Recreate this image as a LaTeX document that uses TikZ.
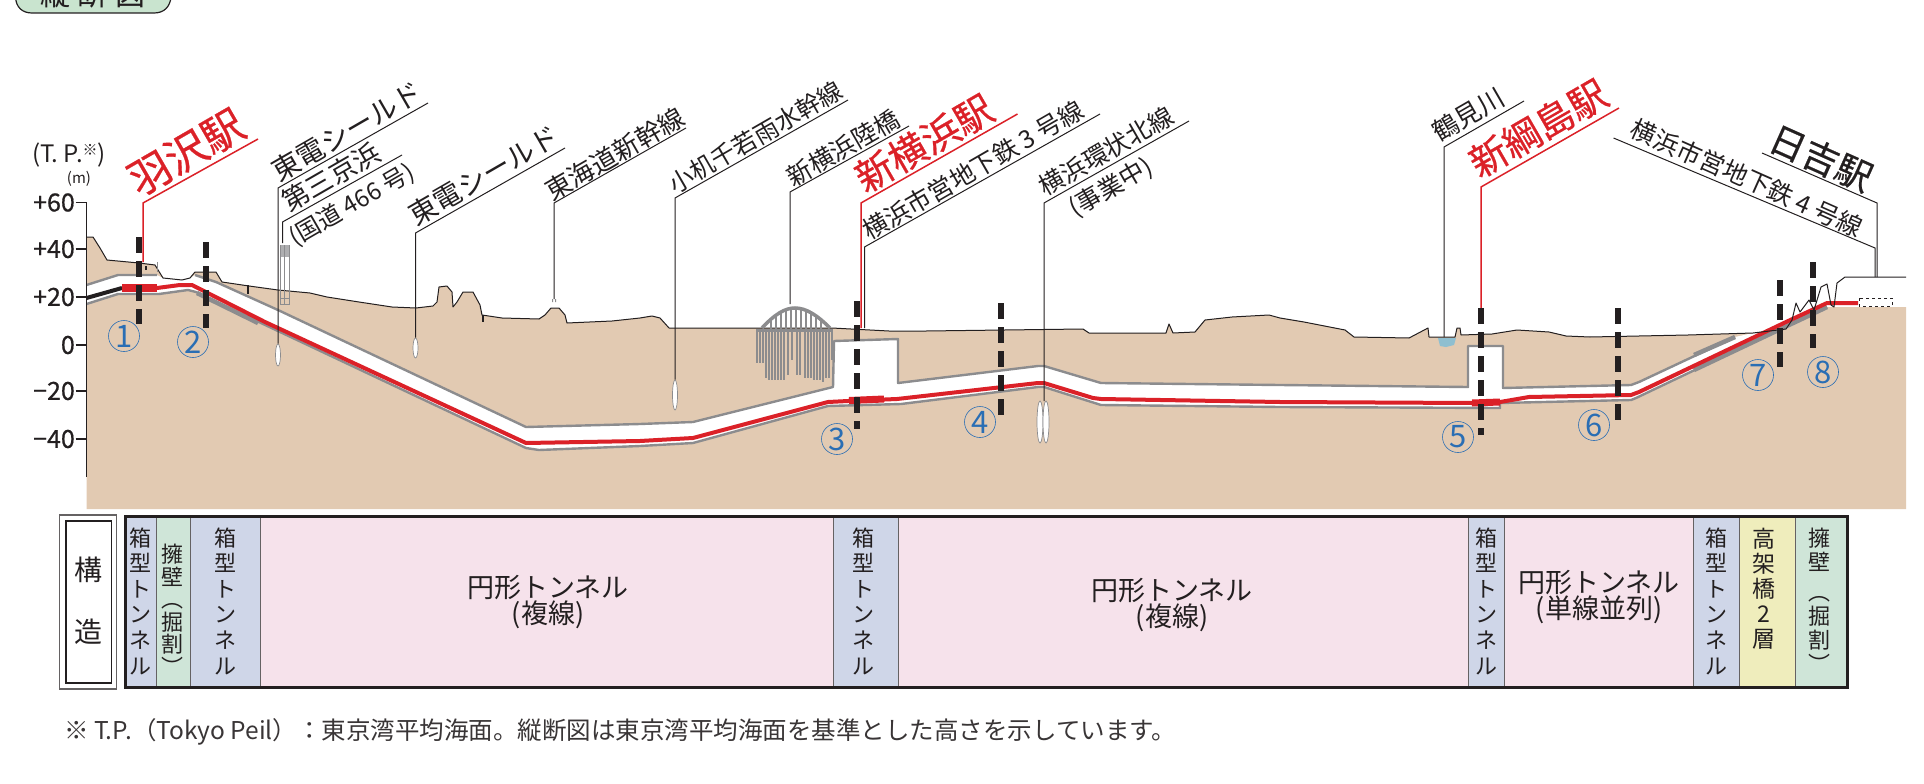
\documentclass[tikz,border=0pt]{standalone}
\usepackage{fontspec}
\setmainfont{Noto Sans CJK JP}
\newfontfamily\jpheavy[FakeBold=0.6]{Noto Sans CJK JP}
\usetikzlibrary{shapes.geometric}
\definecolor{soil}{HTML}{E2CAB2}
\definecolor{rail}{HTML}{DB2128}
\definecolor{wall}{HTML}{8C8C8E}
\definecolor{ink}{HTML}{231F20}
\definecolor{numblue}{HTML}{2A6EB4}
\definecolor{cblue}{HTML}{CFD6E8}
\definecolor{cgreen}{HTML}{CFE5D8}
\definecolor{cpink}{HTML}{F6E2EB}
\definecolor{cyellow}{HTML}{EFEDBC}
\definecolor{ctag}{HTML}{C9E4CF}
\definecolor{river}{HTML}{8FBFD0}
\newcommand{\fpx}[1]{\fontsize{#1}{#1}\selectfont}
\tikzset{
  lead/.style={draw=ink,line width=1pt},
  redlead/.style={draw=rail,line width=1.5pt},
  wallline/.style={draw=wall,line width=2.4pt,line join=round},
  railline/.style={draw=rail,line width=4pt,line join=round},
  stationbar/.style={draw=rail,line width=8pt},
  cut/.style={draw=ink,line width=6pt,dash pattern=on 16pt off 8pt},
  oval/.style={ellipse,draw=wall,fill=white,line width=0.7pt,inner sep=0pt},
  num/.style={circle,draw=numblue,line width=0.6pt,minimum size=31pt,inner sep=0pt,text=numblue,font=\fpx{31}},
  tick/.style={font=\jpheavy\fpx{25},anchor=east,text=ink,inner sep=0pt},
  lab/.style={rotate=30,text=ink,font=\fpx{25},inner sep=0pt},
  labb/.style={rotate=-24,text=ink,font=\fpx{25},inner sep=0pt},
  sta/.style={rotate=30,text=rail,font=\jpheavy\fpx{38},inner sep=0pt},
  cell/.style={draw=ink!70,line width=0.7pt},
  vtxt/.style={align=center,text=ink,inner sep=0pt},
  pile/.style={draw=wall,line width=1.5pt},
}
\begin{document}
\begin{tikzpicture}[x=1pt,y=-1pt]
\useasboundingbox (0,0) rectangle (1924,784);
% tag
\draw[fill=ctag,draw=ink,line width=1.2pt] (15.5,-20) -- (15.5,-3) .. controls (16,7) and (22,13) .. (32,13) -- (154,13) .. controls (164,13) and (170,7) .. (171,-3) -- (171,-20) -- cycle;
\node[text=ink,font=\fpx{30},inner sep=0pt] (tag) at (93,-6) {縦\hspace{8pt}断\hspace{8pt}図};
% soil
\fill[soil] (86.5,237)--(93,237)--(100,248)--(107,260)--(139,263)--(155,265)--(163,278)--(182,280)--(190,278)--(195,272)--(216,272)--(222,282)--(249,286)--(278,290)--(310,293)--(327,297)--(359,302)--(392,307)--(416,308)--(433,306)--(437,302)--(439,287)--(447,286)--(452,292)--(453,307)--(457,302)--(463,292)--(473,292)--(480,305)--(482,315)--(502,318)--(539,319)--(545,315)--(551,308)--(559,308)--(565,315)--(567,323)--(612,321)--(640,318)--(652,316)--(660,318)--(669,328)--(832,328)--(889,331)--(926,331)--(1083,329)--(1089,333)--(1166,333)--(1169,324)--(1173,333)--(1195,332)--(1205,320)--(1232,317)--(1269,315)--(1280,318)--(1304,322)--(1345,330)--(1354,337)--(1409,338)--(1428,328)--(1429,337)--(1455,337)--(1457,328)--(1460,328)--(1461,335)--(1492,334)--(1517,330)--(1549,332)--(1566,336)--(1590,337)--(1688,335)--(1753,333)--(1786,329)--(1827,307)--(1906,307)--(1906,509)--(86.5,509)--cycle;
% river
\fill[river] (1438,338)--(1456,338)--(1454,345)--(1446,347)--(1440,346)--cycle;
% tunnel void
\fill[white] (86.5,285)--(118,275)--(157,275)--(163,278)--(182,280)--(190,278)--(195,275)--(216,282)--(278,310)--(526,427)--(640,424)--(693,422)--(833,387)--(834,341)--(898,339)--(898,383)--(1038,366)--(1044,366)--(1101,383)--(1280,385)--(1468,387)--(1468,346)--(1503,346)--(1503,388)--(1631,385)--(1639,382)--(1735,337)--(1753,333)--(1786,329)--(1827,307)--(1636,398)--(1631,400)--(1500,403)--(1500,408)--(1280,407)--(1101,405)--(1044,387)--(1038,387)--(901,404)--(828,406)--(693,443)--(640,446)--(539,450)--(526,448)--(261,323)--(196,292)--(188,290)--(159,294)--(118,294)--(86.5,304)--cycle;
% tunnel walls
\draw[wallline] (86.5,285)--(118,275)--(157,275);
\draw[wallline] (195,275)--(216,282)--(278,310)--(526,427)--(640,424)--(693,422)--(833,387)--(834,341)--(898,339)--(898,383)--(1038,366)--(1044,366)--(1101,383)--(1280,385)--(1468,387)--(1468,346)--(1503,346)--(1503,388)--(1631,385)--(1639,382)--(1735,337);
\draw[wallline] (86.5,304)--(118,294)--(159,294)--(188,290)--(196,292)--(261,323)--(526,448)--(539,450)--(640,446)--(693,443)--(828,406)--(901,404)--(1038,387)--(1044,387)--(1101,405)--(1280,407)--(1500,408)--(1500,403)--(1631,400)--(1636,398)--(1827,307);
\draw[draw=wall,line width=4.5pt] (197,293)--(258,323);
\draw[draw=wall,line width=4.5pt] (1694,355)--(1735,337);
\draw[draw=wall,line width=4.5pt] (1694,370)--(1827,307);
% rail
\draw[draw=ink,line width=4pt] (86.5,298)--(122,288);
\draw[railline] (122,288)--(157,288)--(180,285)--(192,285)--(265,322)--(526,443)--(640,441)--(693,438)--(828,402)--(848,401)--(897,399)--(1038,383)--(1044,383)--(1093,398)--(1101,399)--(1280,402)--(1472,403)--(1500,402)--(1529,397)--(1631,395)--(1639,392)--(1786,322)--(1827,303)--(1858,303);
\draw[stationbar] (122,288)--(157,288);
\draw[draw=rail,line width=7pt] (849,400.5)--(884,399);
\draw[draw=rail,line width=7pt] (1472,403)--(1500,402);
\draw[draw=ink,line width=0.7pt,dashed] (1859,298) rectangle (1892,306);
% ground line
\draw[draw=ink,line width=1pt,line join=round] (86.5,237)--(93,237)--(100,248)--(107,260)--(139,263)--(155,265)--(163,278)--(182,280)--(190,278)--(195,272)--(216,272)--(222,282)--(249,286)--(278,290)--(310,293)--(327,297)--(359,302)--(392,307)--(416,308)--(433,306)--(437,302)--(439,287)--(447,286)--(452,292)--(453,307)--(457,302)--(463,292)--(473,292)--(480,305)--(482,315)--(502,318)--(539,319)--(545,315)--(551,308)--(559,308)--(565,315)--(567,323)--(612,321)--(640,318)--(652,316)--(660,318)--(669,328)--(832,328)--(889,331)--(926,331)--(1083,329)--(1089,333)--(1166,333)--(1169,324)--(1173,333)--(1195,332)--(1205,320)--(1232,317)--(1269,315)--(1280,318)--(1304,322)--(1345,330)--(1354,337)--(1409,338)--(1428,328)--(1429,337)--(1455,337)--(1457,328)--(1460,328)--(1461,335)--(1492,334)--(1517,330)--(1549,332)--(1566,336)--(1590,337)--(1688,335)--(1753,333)--(1786,329)--(1792,320)--(1796,303)--(1800,312)--(1809,300)--(1814,310)--(1821,287)--(1827,284)--(1831,305)--(1834,307)--(1837,283)--(1845,277)--(1906,277);
\draw[draw=ink,line width=1.2pt] (146,266)--(146,270) (248,285)--(248,294) (483,315)--(483,322);
\draw[draw=wall,line width=1pt] (157,262)--(157,272);
% third keihin structure
\fill[wall!70] (280,245) rectangle (289,257);
\draw[draw=wall,line width=0.9pt] (280,245)--(280,304)--(289,304)--(289,245) (284.5,245)--(284.5,304) (280,298)--(289,298);
% bridge
\foreach \x in {757,760,763}{\draw[pile] (\x,329)--(\x,363);}
\foreach \x/\y in {766/378,769/380,772/380,775/380,778/380,781/380,784/380,788/375,792/360,797/375,800/375,805/378,808/378,811/378,814/380,817/380,820/380,823/382,826/378,829/378,832/360}{\draw[pile] (\x,329)--(\x,\y);}
\foreach \x/\y in {771/320,776/316,781/312,786/310,791/309,796/308,801/309,806/311,811/313,816/317,821/320}{\draw[draw=wall,line width=1.1pt] (\x,\y)--(\x,329);}
\draw[draw=wall,line width=3pt] (756,330)--(833,330);
\draw[draw=wall,line width=3.5pt] (762,328) .. controls (775,314) and (785,308) .. (795,308) .. controls (806,308) and (817,315) .. (830,328);
% small marks under the Tokaido leader
\fill[wall] (552,299) rectangle (553,302) (555,299) rectangle (556,302);
% ovals
\node[oval,minimum width=5pt,minimum height=22pt] (ovA) at (278,355) {};
\node[oval,minimum width=5pt,minimum height=20pt] (ovB) at (415.5,348) {};
\node[oval,minimum width=5pt,minimum height=30pt] (ovC) at (675,395) {};
\node[oval,minimum width=6pt,minimum height=42pt] (ovD) at (1040,422) {};
\node[oval,minimum width=6pt,minimum height=42pt] (ovE) at (1046,422) {};
% leaders
\coordinate (a0) at (143,262); \coordinate (a1) at (143,203); \coordinate (a2) at (258,139);
\draw[redlead] (a0)--(a1)--(a2);
\coordinate (b1) at (278,188); \coordinate (b2) at (428,103);
\draw[lead] (ovA.north)--(b1)--(b2);
\coordinate (c0) at (282.5,243); \coordinate (c1) at (282.5,222); \coordinate (c2) at (402,155);
\draw[lead] (c0)--(c1)--(c2);
\coordinate (d1) at (415.5,233); \coordinate (d2) at (565,148);
\draw[lead] (ovB.north)--(d1)--(d2);
\coordinate (e0) at (554,299); \coordinate (e1) at (554,203); \coordinate (e2) at (686,128);
\draw[lead] (e0)--(e1)--(e2);
\coordinate (f1) at (675,198); \coordinate (f2) at (848,100);
\draw[lead] (ovC.north)--(f1)--(f2);
\coordinate (g0) at (790,304); \coordinate (g1) at (790,192); \coordinate (g2) at (909,126);
\draw[lead] (g0)--(g1)--(g2);
\coordinate (h0) at (861,328); \coordinate (h1) at (861,203); \coordinate (h2) at (1017.5,114);
\draw[redlead] (h0)--(h1)--(h2);
\coordinate (i0) at (864.5,328); \coordinate (i1) at (864.5,247); \coordinate (i2) at (1100,114);
\draw[lead] (i0)--(i1)--(i2);
\coordinate (j0) at (1044,401); \coordinate (j1) at (1044,203); \coordinate (j2) at (1189,121);
\draw[lead] (j0)--(j1)--(j2);
\coordinate (k0) at (1444,337); \coordinate (k1) at (1444,147); \coordinate (k2) at (1524,101);
\draw[lead] (k0)--(k1)--(k2);
\coordinate (l0) at (1481,308); \coordinate (l1) at (1481,187); \coordinate (l2) at (1619,108);
\draw[redlead] (l0)--(l1)--(l2);
\coordinate (m0) at (1875,277); \coordinate (m1) at (1875,248); \coordinate (m2) at (1613.5,138);
\draw[lead] (m0)--(m1)--(m2);
\coordinate (n0) at (1877,277); \coordinate (n1) at (1877,203); \coordinate (n2) at (1762,153);
\draw[lead] (n0)--(n1)--(n2);
% cut marks
\draw[cut] (139,237)--(139,324);
\draw[cut] (206,242)--(206,328);
\draw[cut] (857,301)--(857,429);
\draw[cut] (1001,303)--(1001,415);
\draw[cut] (1481,308)--(1481,435);
\draw[cut] (1618,308)--(1618,425);
\draw[cut] (1780,280)--(1780,367);
\draw[cut] (1813,262)--(1813,348);
% numbers
\node[num] (n1a) at (124,336) {1};
\node[num] (n2a) at (193,342) {2};
\node[num] (n3a) at (837,439) {3};
\node[num] (n4a) at (980,422) {4};
\node[num] (n5a) at (1458,437) {5};
\node[num] (n6a) at (1594,425) {6};
\node[num] (n7a) at (1758,375) {7};
\node[num] (n8a) at (1823,372) {8};
% axis
\draw[draw=ink,line width=1.6pt] (86.5,202)--(86.5,477);
\foreach \y in {202.5,249,297,345,391,439}{
  \draw[draw=ink,line width=1.2pt] (75.5,\y)--(86.5,\y);
}
\node[tick] (t60) at (75,202.5) {+60};
\node[tick] (t40) at (75,249) {+40};
\node[tick] (t20) at (75,297) {+20};
\node[tick] (t0) at (75,345) {0};
\node[tick] (tm20) at (75,391) {−20};
\node[tick] (tm40) at (75,439) {−40};
\node[text=ink,font=\fpx{24},inner sep=0pt] (tp) at (69,155) {(T. P.\raisebox{7pt}{\fpx{15}※})};
\node[text=ink,font=\fpx{15},inner sep=0pt] (mm) at (79,179) {(m)};
% labels
\node[sta,font=\jpheavy\fpx{42}] (s1) at (186,152) {羽沢駅};
\node[lab,font=\fpx{28}] (l1) at (347,131) {東電シールド};
\node[lab,font=\fpx{27}] (l2) at (331,177) {第三京浜};
\node[lab,font=\fpx{24}] (l3) at (352,205) {(国道 466 号)};
\node[lab,font=\fpx{28}] (l4) at (484,175) {東電シールド};
\node[lab,font=\fpx{26}] (l5) at (615,154) {東海道新幹線};
\node[lab,font=\fpx{24.5}] (l6) at (755.5,137) {小机千若雨水幹線};
\node[lab] (l7) at (843,148) {新横浜陸橋};
\node[sta] (s2) at (924,143) {新横浜駅};
\node[lab] (l8) at (973,170) {横浜市営地下鉄 3 号線};
\node[lab] (l9) at (1106,151) {横浜環状北線};
\node[lab] (l10) at (1111,188) {(事業中)};
\node[lab,font=\fpx{26}] (l11) at (1468,115) {鶴見川};
\node[sta] (s3) at (1538,128) {新綱島駅};
\node[labb] (l12) at (1747,178) {横浜市営地下鉄 4 号線};
\node[labb,font=\jpheavy\fpx{36}] (s4) at (1821,158) {日吉駅};
% table
\draw[draw=ink!70,line width=1.5pt] (59.4,515) rectangle (116.3,689);
\draw[draw=ink,line width=1.6pt,fill=white] (66,520.7) rectangle (111.5,683);
\node[text=ink,font=\fpx{28},inner sep=0pt] (kou) at (88.5,570) {構};
\node[text=ink,font=\fpx{28},inner sep=0pt] (zou) at (88.5,632) {造};
\fill[cblue,cell] (125.5,516) rectangle (156,687);
\fill[cgreen,cell] (156,516) rectangle (190,687);
\fill[cblue,cell] (190,516) rectangle (260,687);
\fill[cpink,cell] (260,516) rectangle (833,687);
\fill[cblue,cell] (833,516) rectangle (898,687);
\fill[cpink,cell] (898,516) rectangle (1468,687);
\fill[cblue,cell] (1468,516) rectangle (1504,687);
\fill[cpink,cell] (1504,516) rectangle (1693,687);
\fill[cblue,cell] (1693,516) rectangle (1739,687);
\fill[cyellow,cell] (1739,516) rectangle (1795,687);
\fill[cgreen,cell] (1795,516) rectangle (1847,687);
\draw[draw=ink,line width=3pt] (125.5,516) rectangle (1847,687);
\foreach \x/\n in {140.5/a,225/b,863.5/c,1486/d,1716/e}{
  \node[vtxt,font={\fontsize{22}{25.6}\selectfont}] (box\n) at (\x,601) {箱\\型\\ト\\ン\\ネ\\ル};
}
\node[vtxt,font={\fontsize{22}{22.5}\selectfont}] (wallA) at (172.7,610) {擁\\壁\\︵\\掘\\割\\︶};
\node[vtxt,font={\fontsize{22}{24}\selectfont}] (wallB) at (1819,600) {擁\\壁\\[6pt]︵\\掘\\割\\︶};
\node[vtxt,font={\fontsize{23}{25}\selectfont}] (bridge) at (1764,589) {高\\架\\橋\\2\\層};
\node[vtxt,font={\fontsize{27}{26}\selectfont}] (circA) at (548,602) {円形トンネル\\(複線)};
\node[vtxt,font={\fontsize{27}{26}\selectfont}] (circB) at (1172,605) {円形トンネル\\(複線)};
\node[vtxt,font={\fontsize{27}{26}\selectfont}] (circC) at (1599,597) {円形トンネル\\(単線並列)};
\node[anchor=west,text=ink!90,font=\fpx{24.5},inner sep=0pt] (note) at (64,731.7) {※ T.P.（Tokyo Peil）：東京湾平均海面。縦断図は東京湾平均海面を基準とした高さを示しています。};
\end{tikzpicture}
\end{document}
